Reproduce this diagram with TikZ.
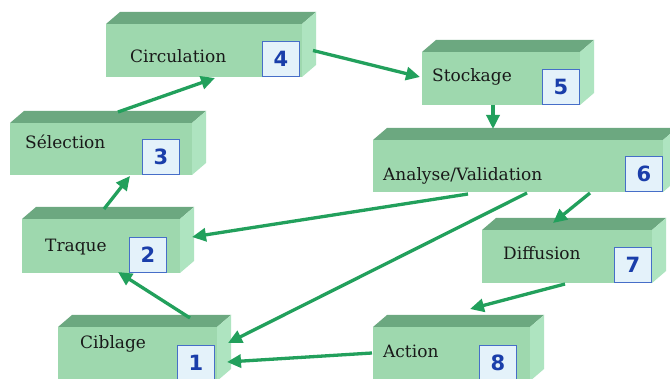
\documentclass[tikz,border=0pt]{standalone}
\usepackage{fontspec}
\setmainfont{DejaVu Serif}
\newfontfamily\digitfont{DejaVu Sans}
\usepackage{xcolor}
\usepackage{tikz}
\usetikzlibrary{arrows.meta,fit,calc}

\definecolor{slabfront}{RGB}{158,216,174}
\definecolor{slabtop}{RGB}{108,168,128}
\definecolor{slabside}{RGB}{174,228,192}
\definecolor{flowgreen}{RGB}{34,160,92}
\definecolor{numblue}{RGB}{26,62,170}
\definecolor{numframe}{RGB}{70,110,200}
\definecolor{numfill}{RGB}{228,242,250}

\begin{document}
\begin{tikzpicture}[x=1pt, y=-1pt,
  front/.style = {rectangle, fill=slabfront, inner sep=0pt, outer sep=0pt},
  topface/.style = {fill=slabtop},
  sideface/.style = {fill=slabside},
  lbl/.style  = {anchor=base west, inner sep=0pt,
                 font=\fontsize{17}{20}\selectfont, text=black!90},
  num/.style  = {rectangle, draw=numframe, line width=0.9pt, fill=numfill,
                 minimum width=37pt, minimum height=35pt, inner sep=0pt,
                 anchor=south east, text=numblue,
                 font=\digitfont\bfseries\fontsize{21}{21}\selectfont},
  arr/.style  = {-{Triangle[length=14pt,width=13pt]}, line width=3.3pt,
                 draw=flowgreen}
]

\clip (0,0) rectangle (670,379);
\fill[white] (0,0) rectangle (670,379);

% -- Front faces of the slabs --
\node[front, fit={(58,327) (217,381)}]  (cib)  {};
\node[front, fit={(22,219) (180,273)}]  (trq)  {};
\node[front, fit={(10,123) (192,175)}]  (sel)  {};
\node[front, fit={(106,24) (302,77)}]   (circ) {};
\node[front, fit={(422,52) (580,105)}]  (stk)  {};
\node[front, fit={(373,140) (663,192)}] (ana)  {};
\node[front, fit={(482,230) (652,283)}] (dif)  {};
\node[front, fit={(373,327) (530,381)}] (act)  {};

% -- Top and side faces --
\foreach \b in {cib,trq,sel,circ,stk,ana,dif,act}{
  \fill[topface] (\b.north west) -- ++(14,-12)
      -- ($(\b.north east)+(14,-12)$) -- (\b.north east) -- cycle;
  \fill[sideface] (\b.north east) -- ++(14,-12)
      -- ($(\b.south east)+(14,-12)$) -- (\b.south east) -- cycle;
}

% -- Labels --
\node[lbl] (tcib)  at (80,349)  {Ciblage};
\node[lbl] (ttrq)  at (45,252)  {Traque};
\node[lbl] (tsel)  at (25,149)  {Sélection};
\node[lbl] (tcirc) at (130,63)  {Circulation};
\node[lbl] (tstk)  at (432,82)  {Stockage};
\node[lbl] (tana)  at (383,181) {Analyse/Validation};
\node[lbl] (tdif)  at (503,260) {Diffusion};
\node[lbl] (tact)  at (383,358) {Action};

% -- Step numbers --
\node[num] (n1) at ($(cib.south east)+(-2,0)$)   {1};
\node[num] (n2) at ($(trq.south east)+(-13,0)$)  {2};
\node[num] (n3) at ($(sel.south east)+(-12,0)$)  {3};
\node[num] (n4) at ($(circ.south east)+(-2,0)$)  {4};
\node[num] (n5) at (stk.south east)              {5};
\node[num] (n6) at (ana.south east)              {6};
\node[num] (n7) at (dif.south east)              {7};
\node[num] (n8) at ($(act.south east)+(-13,0)$)  {8};

% -- Cycle arrows --
\draw[arr] ($(cib.north east)+(-27,-9)$) -- ($(trq.south)+(17,-1)$);
\draw[arr] ($(trq.north)+(3,-10)$)       -- ($(sel.south)+(29,1)$);
\draw[arr] ($(sel.north)+(17,-11)$)      -- ($(circ.south)+(11,1)$);
\draw[arr] ($(circ.east)+(11,0)$)        -- ($(stk.west)+(-2,-1.5)$);
\draw[arr] ($(stk.south)+(-8,0)$)        -- ($(ana.north)+(-25,-11)$);
\draw[arr] ($(ana.south)+(-50,2)$)       -- ($(trq.east)+(12,-9)$);
\draw[arr] ($(ana.south)+(9,1)$)         -- ($(cib.east)+(11,-11)$);
\draw[arr] ($(ana.south east)+(-73,1)$)  -- ($(dif.north)+(-14,-7)$);
\draw[arr] ($(dif.south)+(-2,1)$)        -- ($(act.north)+(18.5,-18)$);
\draw[arr] ($(act.west)+(-1,-1)$)        -- ($(cib.east)+(10,8)$);

\end{tikzpicture}
\end{document}
